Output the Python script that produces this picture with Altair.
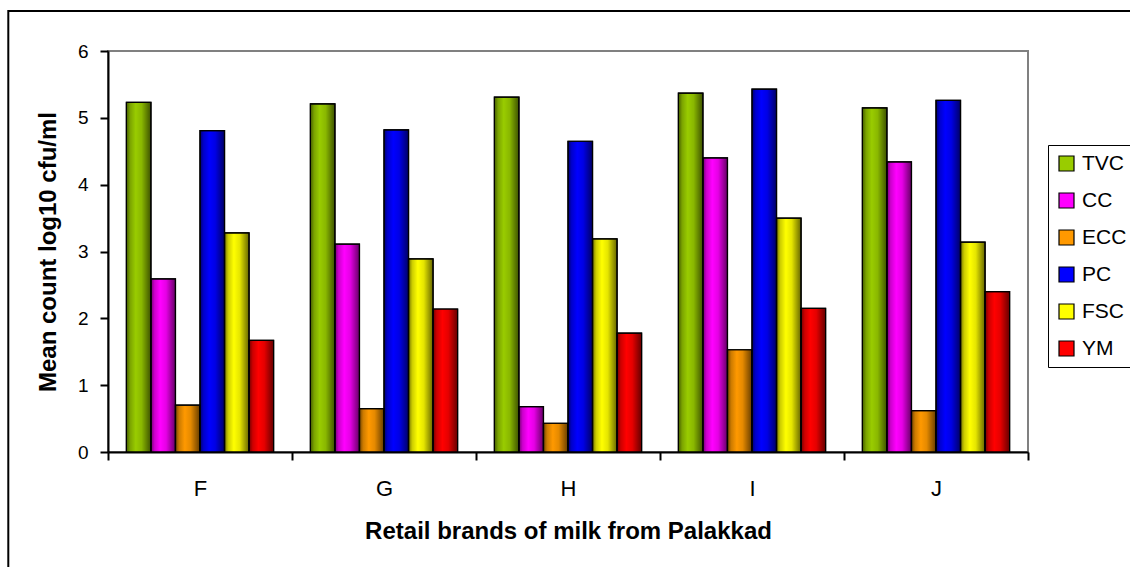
import altair as alt
import pandas as pd

brands = ["F", "G", "H", "I", "J"]
series_names = ["TVC", "CC", "ECC", "PC", "FSC", "YM"]
colors = ["#99CC00", "#FF00FF", "#FF9900", "#0000FF", "#FFFF00", "#FF0000"]

TVC = [5.23, 5.21, 5.31, 5.37, 5.15]
CC = [2.59, 3.11, 0.68, 4.40, 4.34]
ECC = [0.70, 0.65, 0.43, 1.53, 0.62]
PC = [4.81, 4.82, 4.65, 5.43, 5.26]
FSC = [3.28, 2.89, 3.19, 3.50, 3.14]
YM = [1.67, 2.14, 1.78, 2.15, 2.40]

rows = []
for s, vals in zip(series_names, [TVC, CC, ECC, PC, FSC, YM]):
    for b, v in zip(brands, vals):
        rows.append({"brand": b, "series": s, "value": v})
df = pd.DataFrame(rows)

FONT = "Liberation Sans"
W, H = 920, 401

x = alt.X(
    "brand:N",
    sort=brands,
    title="Retail brands of milk from Palakkad",
    scale=alt.Scale(paddingInner=0, paddingOuter=0),
    axis=alt.Axis(
        labelAngle=0, tickBand="extent", domainColor="black", domainWidth=2,
        tickColor="black", tickWidth=2, tickSize=8, labelFontSize=22,
        labelColor="black", labelPadding=18, titleFontSize=24,
        titleFontWeight="bold", titleColor="black", titlePadding=20,
    ),
)
xo = alt.XOffset("series:N", sort=series_names,
                 scale=alt.Scale(paddingInner=0, paddingOuter=0.75))
y = alt.Y(
    "value:Q",
    title="Mean count log10 cfu/ml",
    scale=alt.Scale(domain=[0, 6], nice=False),
    axis=alt.Axis(
        values=[0, 1, 2, 3, 4, 5, 6], grid=False, domainColor="black",
        domainWidth=2, tickColor="black", tickWidth=2, tickSize=8,
        labelFontSize=19, labelColor="black", labelPadding=12,
        titleFontSize=24, titleFontWeight="bold", titleColor="black",
        titlePadding=17,
    ),
)

base = alt.Chart(df)

bars = base.mark_bar(stroke="black", strokeWidth=1.2).encode(
    x=x, xOffset=xo, y=y,
    color=alt.Color(
        "series:N", sort=series_names,
        scale=alt.Scale(domain=series_names, range=colors),
        legend=alt.Legend(
            title=None, orient="none", legendX=940, legendY=94,
            fillColor="white", strokeColor="black", padding=8,
            symbolType="square", symbolSize=225, symbolStrokeColor="black",
            symbolStrokeWidth=1.2, labelFontSize=21, labelColor="black",
            labelOffset=5, rowPadding=15,
        ),
    ),
)

shade = base.mark_bar(
    stroke="black", strokeWidth=1.2,
    fill={
        "gradient": "linear", "x1": 0, "x2": 1, "y1": 0, "y2": 0,
        "stops": [
            {"offset": 0, "color": "rgba(0,0,0,0.55)"},
            {"offset": 0.15, "color": "rgba(0,0,0,0.2)"},
            {"offset": 0.38, "color": "rgba(0,0,0,0)"},
            {"offset": 0.62, "color": "rgba(0,0,0,0.1)"},
            {"offset": 1, "color": "rgba(0,0,0,0.6)"},
        ],
    },
).encode(x=x, xOffset=xo, y=y)

border = alt.Chart(pd.DataFrame({"a": [0]})).mark_rect(
    fillOpacity=0, stroke="black", strokeWidth=2
).encode(
    x=alt.value(-99.7), x2=alt.value(1060), y=alt.value(-40), y2=alt.value(560)
)

chart = alt.layer(bars, shade, border).properties(
    width=W, height=H,
    autosize=alt.AutoSizeParams(type="none"),
    padding={"left": 108, "top": 51, "right": 102, "bottom": 115},
).configure(font=FONT).configure_view(stroke="#808080", strokeWidth=2)

chart.save("out.html", embed_options={"renderer": "svg", "actions": False})
